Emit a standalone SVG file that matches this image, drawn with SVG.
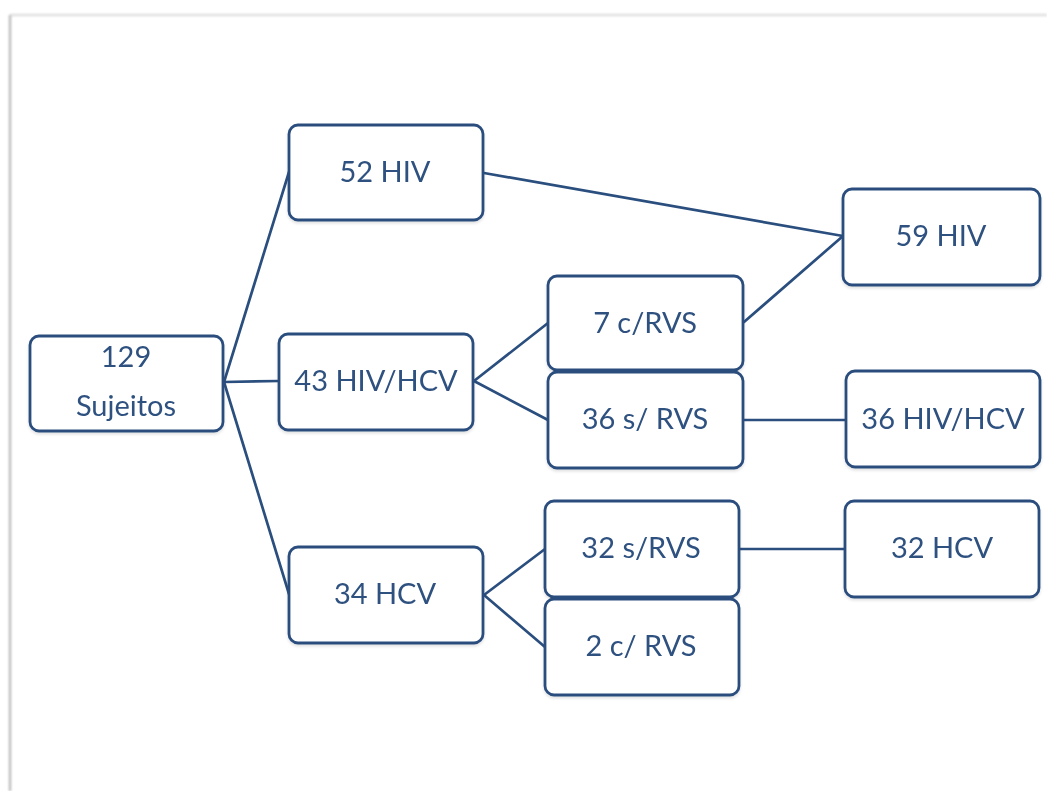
<svg xmlns="http://www.w3.org/2000/svg" width="1047" height="791" viewBox="0 0 1047 791">
  <defs>
    <filter id="sh" x="-10%" y="-10%" width="120%" height="130%">
      <feGaussianBlur in="SourceAlpha" stdDeviation="1.5"/>
      <feOffset dx="0" dy="2"/>
      <feComponentTransfer><feFuncA type="linear" slope="0.12"/></feComponentTransfer>
      <feMerge><feMergeNode/><feMergeNode in="SourceGraphic"/></feMerge>
    </filter>
    <filter id="pg" x="-5%" y="-5%" width="110%" height="110%">
      <feGaussianBlur stdDeviation="1"/>
    </filter>
  </defs>
  <style>
    .box { fill: #ffffff; stroke: #2a4e7e; stroke-width: 2.8; }
    .lbl { font-family: Lato, "Open Sans", "Liberation Sans", sans-serif; font-size: 29px; fill: #2d5180; text-anchor: middle; }
    .conn { stroke: #2a4e7e; stroke-width: 2.7; fill: none; stroke-linecap: round; }
  </style>
  <rect width="1047" height="791" fill="#ffffff"/>
  <g id="page" filter="url(#pg)">
    <line x1="10" y1="15" x2="1047" y2="15" stroke="#e0e0e0" stroke-width="2.5"/>
    <line x1="10" y1="15" x2="10" y2="791" stroke="#bdbdbd" stroke-width="2.5"/>
  </g>
  <g id="connectors">
    <line class="conn" x1="224" y1="382" x2="289" y2="172"/>
    <line class="conn" x1="224" y1="382" x2="279" y2="381"/>
    <line class="conn" x1="224" y1="382" x2="289" y2="594"/>
    <line class="conn" x1="484" y1="173" x2="843" y2="236"/>
    <line class="conn" x1="474" y1="381" x2="548" y2="323"/>
    <line class="conn" x1="474" y1="381" x2="548" y2="420"/>
    <line class="conn" x1="744" y1="322" x2="843" y2="236"/>
    <line class="conn" x1="744" y1="420" x2="846" y2="420"/>
    <line class="conn" x1="484" y1="595" x2="545" y2="549"/>
    <line class="conn" x1="484" y1="595" x2="545" y2="647"/>
    <line class="conn" x1="740" y1="549" x2="845" y2="549"/>
  </g>
  <g id="n129" filter="url(#sh)">
    <rect class="box" x="30" y="336" width="193" height="95" rx="9"/>
    <text class="lbl" x="126" y="367">129</text>
    <text class="lbl" x="126" y="416">Sujeitos</text>
  </g>
  <g id="n52hiv" filter="url(#sh)">
    <rect class="box" x="289" y="125" width="194" height="95" rx="9"/>
    <text class="lbl" x="385" y="182">52 HIV</text>
  </g>
  <g id="n43hivhcv" filter="url(#sh)">
    <rect class="box" x="279" y="334" width="194" height="96" rx="9"/>
    <text class="lbl" x="376" y="391">43 HIV/HCV</text>
  </g>
  <g id="n34hcv" filter="url(#sh)">
    <rect class="box" x="289" y="547" width="194" height="96" rx="9"/>
    <text class="lbl" x="385" y="604">34 HCV</text>
  </g>
  <g id="n7crvs" filter="url(#sh)">
    <rect class="box" x="548" y="276" width="195" height="94" rx="9"/>
    <text class="lbl" x="645" y="333">7 c/RVS</text>
  </g>
  <g id="n36srvs" filter="url(#sh)">
    <rect class="box" x="548" y="372" width="195" height="96" rx="9"/>
    <text class="lbl" x="645" y="429">36 s/ RVS</text>
  </g>
  <g id="n32srvs" filter="url(#sh)">
    <rect class="box" x="545" y="501" width="194" height="96" rx="9"/>
    <text class="lbl" x="641" y="558">32 s/RVS</text>
  </g>
  <g id="n2crvs" filter="url(#sh)">
    <rect class="box" x="545" y="599" width="194" height="96" rx="9"/>
    <text class="lbl" x="641" y="656">2 c/ RVS</text>
  </g>
  <g id="n59hiv" filter="url(#sh)">
    <rect class="box" x="843" y="189" width="197" height="96" rx="9"/>
    <text class="lbl" x="941" y="246">59 HIV</text>
  </g>
  <g id="n36hivhcv" filter="url(#sh)">
    <rect class="box" x="846" y="371" width="194" height="96" rx="9"/>
    <text class="lbl" x="943" y="429">36 HIV/HCV</text>
  </g>
  <g id="n32hcv" filter="url(#sh)">
    <rect class="box" x="845" y="501" width="194" height="96" rx="9"/>
    <text class="lbl" x="942" y="558">32 HCV</text>
  </g>
</svg>
